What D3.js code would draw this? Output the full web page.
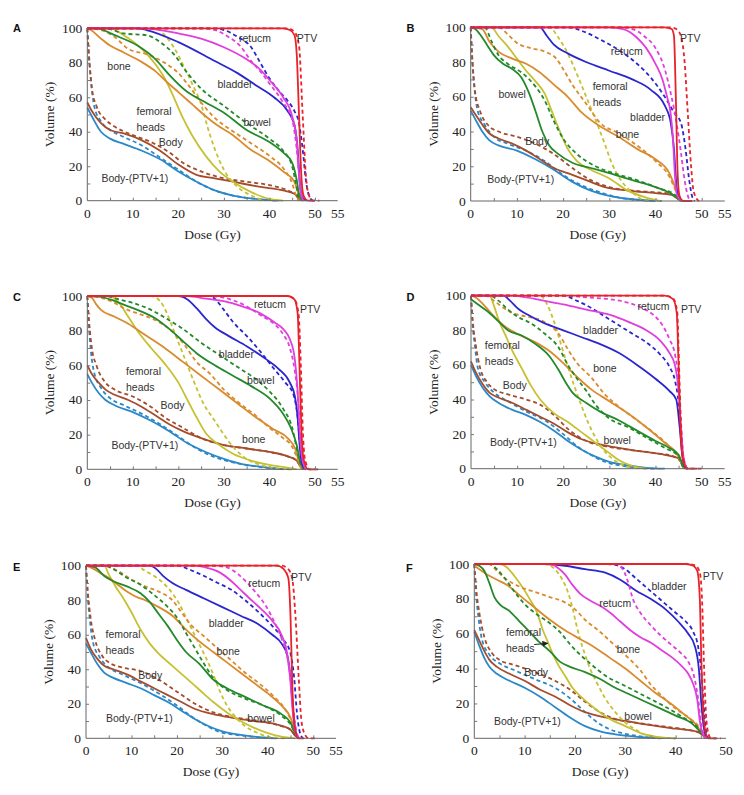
<!DOCTYPE html>
<html>
<head>
<meta charset="utf-8">
<script src="https://cdn.jsdelivr.net/npm/d3@7"></script>
<style>
  body { margin: 0; background: #fff; }
  svg { display: block; }
</style>
</head>
<body>
<svg id="chart" width="744" height="795"></svg>
<script>
// each array holds one curve per panel, in order A..F, as [dose Gy, volume %]
var bodyRingSolid = [
  [[0,54],[1,49],[3,40],[5,36],[8,33],[12,29],[16,24],[20,17],[24,11],[28,6],[32,3],[37,1],[42,0]],
  [[0,52],[1,47],[2.5,40],[4,35],[6,32],[10,29],[14,24],[18,18],[22,11],[26,6],[30,3],[35,1],[40,0]],
  [[0,55],[1,50],[2.5,44],[4,40],[6,37],[10,33],[14,28],[18,22],[22,15],[26,10],[30,6],[34,3],[38,1.5],[43,0]],
  [[0,60],[1,54],[2.5,47],[4,42],[6,38],[9,34],[12,31],[15,27],[18,22],[21,16],[24,11],[27,7],[30,4],[34,2],[38,0.5],[42,0]],
  [[0,55],[1,50],[2.5,43],[4,38],[6,35],[9,32],[12,29],[15,25],[18,21],[21,16],[24,11],[27,7],[30,4],[34,2],[38,0.7],[42,0]],
  [[0,61],[1,53],[2,46],[3,41],[4.5,37],[7,33],[10,29],[13,24],[16,18],[19,12],[22,7],[25,4],[28,2.3],[32,1],[37,0]]
]
var bodyRingDashed = [
  [[0,100],[0.3,85],[0.8,70],[1.5,55],[3,46],[5,41],[8,37],[12,32],[16,25],[20,18],[24,11],[28,6],[32,3],[37,1],[42,0]],
  [[0,100],[0.3,82],[0.8,65],[1.5,52],[3,44],[5,37],[8,33],[12,29],[16,23],[20,15],[24,9],[28,5],[32,2],[37,0.5],[42,0]],
  [[0,100],[0.3,85],[0.8,68],[1.5,56],[3,47],[5,41],[8,37],[12,32],[16,26],[20,19],[24,12],[28,7],[32,4],[36,2],[41,0.5],[45,0]],
  [[0,100],[0.3,85],[0.8,72],[1.5,58],[3,50],[5,44],[8,39],[12,33],[16,28],[20,20],[23,13],[26,8],[29,4],[32,2],[36,0.5],[40,0]],
  [[0,100],[0.3,85],[0.8,70],[1.5,56],[3,47],[5,41],[8,37],[12,32],[16,26],[20,19],[23,13],[26,8],[29,4],[33,2],[37,0.8],[41,0]],
  [[0,100],[0.3,85],[0.8,70],[1.5,57],[3,48],[5,43],[8,39],[12,34],[16,29],[19,23],[22,15],[25,8],[28,4],[31,2],[35,0.5],[40,0]]
]
var bodySolid = [
  [[0,57],[1,52],[3,45],[5,41],[8,39],[12,35],[16,29],[20,21],[24,15],[28,13],[32,11],[38,8],[43,6],[45.5,4],[46.5,1],[47.5,0]],
  [[0,54],[1,50],[2.5,44],[4,39],[6,36],[9,33],[12,29],[15,24],[18,19],[21,16],[25,12],[29,8],[34,6],[40,4.5],[43.5,3.5],[45,1],[46,0]],
  [[0,60],[1,55],[2.5,50],[4,46],[6,43],[9,40],[12,36],[15,31],[18,26],[21,22],[25,18],[30,14],[35,12],[40,10],[44,7.5],[46,5],[47,1],[48,0]],
  [[0,62],[1,56],[2.5,49],[4,44],[6,41],[9,38],[12,34],[15,30],[18,26],[21,21],[24,17],[28,14],[32,12],[37,10],[42,8],[45,6],[46,1],[46.8,0]],
  [[0,58],[1,52],[2.5,46],[4,42],[6,40],[9,37],[12,33],[15,29],[18,25],[21,21],[24,17],[28,14],[32,12],[37,10],[42,8],[45,5],[46,1.5],[46.7,0]],
  [[0,62],[1,56],[2,50],[3,45],[4.5,41],[7,37],[10,33],[13,28],[16,24],[19,19],[22,15],[26,12],[30,10],[35,7.5],[40,5.5],[44,4],[45.3,2],[46,0]]
]
var bodyDashed = [
  [[0,100],[0.5,80],[1,65],[2,55],[4,47],[6,43],[10,38],[14,34],[18,28],[21,22],[25,17],[30,13],[35,11],[40,9],[44,6],[46,3],[47,0]],
  [[0,100],[0.4,80],[1,62],[2,52],[4,43],[6,40],[10,37],[14,33],[18,27],[22,19],[26,12],[30,8],[35,6],[40,5],[43.5,4],[45,1],[46,0]],
  [[0,100],[0.4,85],[1,70],[2,60],[4,50],[6,46],[10,42],[14,36],[17,30],[21,24],[25,18],[30,14],[35,12],[40,10],[44,7.5],[46,5],[47,1],[48,0]],
  [[0,100],[0.4,85],[1,72],[2,58],[3.5,50],[5,46],[8,43],[12,40],[15,37],[18,31],[21,23],[25,16],[29,13],[34,11],[40,9],[44,7],[45.5,4],[46.5,0]],
  [[0,100],[0.4,85],[1,70],[2,57],[3.5,48],[5,44],[8,41],[12,39],[16,34],[20,27],[24,20],[28,15],[33,12],[38,10],[43,7],[45,5],[46.3,1],[47,0]],
  [[0,100],[0.4,85],[1,72],[2,58],[3.5,49],[5,45],[8,42],[12,38],[16,33],[19,28],[22,21],[25,15],[28,11],[32,9],[37,7],[42,5],[45,3],[46,0]]
]
var femoralSolid = [
  [[0,100],[5,100],[8,96],[12,88],[15,79],[17,71],[19,60],[21,48],[23,38],[26,26],[29,17],[32,11],[36,5],[40,1],[43,0]],
  [[0,100],[4.5,100],[6,95],[8,89],[10,82],[12,75],[14,69],[16,62],[17.5,52],[19,42],[21,30],[23,23],[26,18],[30,13],[34,6],[38,2],[41,0]],
  [[0,100],[5,100],[7,96],[9,88],[11,80],[14,70],[17,61],[20,50],[22,40],[24,30],[26,21],[29,14],[32,9],[36,5],[40,2.5],[44,1],[46,0]],
  [[0,100],[4,100],[5,94],[6,86],[7.5,77],[9,68],[11,58],[13,48],[15,40],[18,32],[21,27],[24,21],[27,15],[30,9],[32,5],[35,1.5],[38,0]],
  [[0,100],[4,100],[5,95],[6.5,88],[8,82],[10,73],[12,63],[14,55],[16,49],[19,42],[22,35],[25,28],[28,21],[31,15],[34,10],[37,6],[40,3],[43,1],[46,0]],
  [[0,100],[5,100],[6.5,98],[8,93],[9.5,87],[11,80],[12.5,72],[13.5,63],[14.5,56],[15.5,49],[16.5,43],[18,36],[19.5,29],[21.5,23],[24,17],[27,11],[30,7],[33,3],[36,1],[40,0]]
]
var femoralDashed = [
  [[0,100],[15,100],[17,96],[19,89],[21,79],[23,68],[25,56],[26.5,42],[28,30],[30,18],[33,8],[36,3],[39,0]],
  [[0,100],[17,100],[19,94],[21,85],[23,73],[25,60],[27,47],[29,33],[30.5,22],[32.5,12],[35,5],[37,1],[39,0]],
  [[0,100],[14,100],[16,97],[17.5,90],[19,80],[20.5,70],[22,60],[23.5,50],[25.5,38],[28,28],[30,20],[32,13],[35,6],[38,2.5],[42,0.5],[45,0]],
  [[0,100],[15,100],[16.5,95],[18,85],[19.5,72],[21,59],[22.5,47],[24,36],[25.5,26],[27,18],[29,10],[31,5],[33,2],[35,0]],
  [[0,100],[11,100],[13,97],[15,94],[17,90],[19,84],[20.5,78],[22,70],[23.5,62],[25,54],[26.5,46],[28,37],[29.5,27],[31,19],[33,12],[35,7],[37,4],[40,1],[44,0]],
  [[0,100],[14,100],[16,97],[17.5,91],[18.7,83],[19.5,75],[20.2,66],[21,57],[22,48],[23,40],[24.5,31],[26,23],[28,15],[30,9],[32,5],[34,2],[37,0]]
]
var boneSolid = [
  [[0,100],[0.8,99],[3,94],[5,90],[8,86],[11.6,81],[15,75],[17.4,69],[20,63],[23,56],[26,49],[28.4,44],[32,38],[35.7,30],[40,23],[43,17],[45.5,11],[46.5,3],[47,0]],
  [[0,100],[2.5,99],[4,92],[6,86],[9,82],[12,79],[15,74],[18,67],[21,60],[24,51],[28,43],[32,37],[36,30],[40,24],[43,16],[44.5,6],[45.3,0]],
  [[0,100],[1,99],[2,95],[3,92],[6,88],[9,84],[13,77],[17,70],[21,62],[25,54],[29,46],[33,38],[37,30],[41,23],[44,18],[45.8,11],[46.6,3],[47.2,0]],
  [[0,100],[1,99],[3,94],[5,88],[7,83],[10,78],[14,73],[17,68],[20,61],[23,53],[26,46],[30,39],[34,32],[38,24],[42,15],[44.5,9],[45.7,3],[46.5,0]],
  [[0,100],[1,99],[3,96],[5,93],[7,89],[9,85],[11,82],[13,80],[16,76],[19,71],[22,63],[25,56],[28,50],[31,44],[34,38],[37,32],[40,26],[43,19],[45,12],[46,4],[46.7,0]],
  [[0,99],[1,97],[2.5,94],[4.5,91],[6.5,88],[9,82],[12,75],[15,68],[18,62],[21,57],[24,52],[27,46],[30,40],[33,33],[36,26],[39,20],[42,13],[44,8],[45.2,3],[46,0]]
]
var boneDashed = [
  [[0,100],[3,99],[6,95],[9,88],[13,85],[17,80],[20,74],[22.5,66],[25,57],[28,48],[31,42],[35,35],[40,26],[43,19],[45,10],[46,2],[46.5,0]],
  [[0,100],[6,100],[8,96],[10,91],[13,88],[16,86],[18.5,82],[20,76],[22,67],[25,56],[28,45],[32,39],[36,32],[40,23],[43,14],[44.5,5],[45.3,0]],
  [[0,100],[3,99],[6,96],[8,93],[11,90],[15,86],[18,81],[21,73],[24,62],[27,55],[30,46],[33,39],[37,31],[40,24],[43,18],[45,13],[46.3,5],[47,0]],
  [[0,100],[3,100],[5,97],[7,93],[9,90],[12,88],[15,86],[17,83],[19,78],[21,69],[23,61],[26,53],[29,43],[32,36],[36,28],[40,20],[43,13],[45,7],[46,1],[46.5,0]],
  [[0,100],[4,100],[7,97],[10,92],[13,88],[16,85],[19,80],[21,73],[23,66],[26,59],[29,52],[32,45],[35,38],[38,32],[41,25],[44,16],[45.5,8],[46.3,2],[47,0]],
  [[0,100],[3,100],[4.5,96],[6,92],[9,87],[12,84],[15,81],[18,78],[20,74],[22,68],[25,61],[28,53],[31,45],[33,39],[35,31],[37,25],[40,17],[43,11],[44.8,6],[45.6,2],[46.2,0]]
]
var bowelSolid = [
  [[0,100],[2,100],[6,96],[11,90],[15,82],[18,73],[22,63],[26,57],[30,51],[35,41],[40,34],[43,28],[45,22],[46,12],[46.5,4],[47.2,0]],
  [[0,100],[1,99],[2,96],[3.5,90],[5,84],[7,79],[9,76],[11,71],[12.5,63],[14,52],[15.5,40],[17,32],[19,27],[22,22],[26,19],[30,16],[35,12],[40,8],[43.5,4],[45,1],[45.5,0]],
  [[0,100],[3,99.5],[5,98],[8,95],[11,92],[15,87],[18,81],[21,74],[24,67],[28,60],[32,54],[36,48],[40,41],[43,32],[44.7,24],[46,14],[46.7,5],[47.5,0]],
  [[0,98],[2,94],[4,90],[6,85],[8,80],[11,77],[14,72],[17,65],[19,57],[20.5,50],[22,44],[25,38],[28,33],[32,28],[36,22],[40,16],[43,12],[45,8],[46,2],[46.5,0]],
  [[0,100],[2,99],[4,94],[6,91],[9,88],[12,84],[14,79],[16,72],[18,65],[20,57],[22,50],[25,43],[28,34],[31,29],[35,24],[39,19],[43,14],[45,9],[46,3],[46.7,0]],
  [[0,100],[1,99],[2,96],[3,89],[4,81],[5,77],[7,73],[9,67],[11,61],[13,55],[15,50],[17,44],[19,41],[22,38],[25,34],[28,29],[31,25],[34,21],[37,17],[40,13],[43,9],[44.5,5],[45.5,1.5],[46,0]]
]
var bowelDashed = [
  [[0,100],[4,100],[8,97],[13,96],[16,92],[19,85],[22,74],[25,65],[30,55],[35,45],[40,36],[43,29],[45,20],[45.8,10],[46.5,0]],
  [[0,100],[3,100],[4.5,92],[6,84],[8,79],[11,74],[14,66],[16,58],[18,46],[20,36],[23,27],[27,20],[31,16],[36,12],[41,7],[44,4],[45.5,0]],
  [[0,100],[4,100],[7,98],[10,96],[14,92],[18,86],[21,81],[25,73],[29,66],[33,59],[37,52],[40,45],[43,35],[45,24],[46,12],[46.7,4],[47.5,0]],
  [[0,100],[4,100],[6,97],[8,92],[10,88],[13,84],[16,78],[19,70],[21,60],[23,52],[25,45],[27,37],[30,29],[34,24],[38,18],[42,12],[45,7],[46,1],[46.5,0]],
  [[0,100],[4,100],[6,98],[9,93],[12,89],[15,83],[18,76],[20,70],[22,61],[24,52],[26,43],[28,35],[31,28],[35,23],[39,19],[43,13],[45,8],[46,3],[46.7,0]],
  [[0,100],[3,100],[4.5,97],[6,92],[8,84],[10,77],[12,72],[15,66],[17,61],[19,54],[21,48],[23,43],[26,36],[30,30],[34,24],[38,18],[42,11],[44.5,6],[45.5,2],[46,0]]
]
var bladderSolid = [
  [[0,100],[11,100],[13,99],[20,92],[28,81],[33,74],[37,67],[41,60],[44,52],[45.5,44],[46.2,30],[46.7,10],[47.2,2],[48,0]],
  [[0,100],[15,100],[16.5,95],[18,90],[21,85],[25,80],[30,75],[35,70],[39,64],[42,55],[43.3,45],[44,30],[44.5,10],[45,2],[45.8,0]],
  [[0,100],[20,100],[22,98],[24,93],[26,87],[28,82],[31,77],[35,71],[39,64],[42,58],[44.5,50],[45.6,42],[46.2,30],[46.7,12],[47.2,3],[48,0]],
  [[0,100],[7,100],[8.5,97],[10,93],[13,88],[16,84],[20,80],[24,76],[28,72],[32,67],[36,60],[40,52],[43,45],[44.5,40],[45.2,25],[45.8,8],[46.5,1],[47,0]],
  [[0,100],[14,100],[15.5,98],[17,94],[19,90],[22,86],[26,81],[30,76],[34,71],[38,66],[41,60],[43,55],[44.3,48],[45,35],[45.6,15],[46.1,4],[46.7,0]],
  [[0,100],[14,100],[18,99],[22,97],[26,95],[29,91],[32,85],[35,80],[38,74],[40.5,67],[42.5,60],[43.8,53],[44.6,40],[45.1,20],[45.6,6],[46.2,0]]
]
var bladderDashed = [
  [[0,100],[27,100],[30,99],[33,95],[36,89],[38,80],[40,71],[42,64],[44,58],[45.5,52],[46.5,45],[47.3,30],[48,12],[48.7,3],[49.5,0]],
  [[0,100],[21,100],[24,98],[28,93],[32,87],[36,79],[39,71],[42,60],[44,51],[45.5,45],[46.5,30],[47.3,12],[48,2],[48.5,0]],
  [[0,100],[27,100],[28.5,97],[30,92],[32,85],[35,77],[38,68],[41,58],[43.5,50],[45.3,43],[46.2,30],[46.8,12],[47.3,3],[48,0]],
  [[0,100],[20,100],[23,97],[26,93],[29,88],[32,83],[35,78],[38,73],[41,66],[43,59],[44.3,50],[45,38],[45.5,20],[46,6],[46.8,0]],
  [[0,100],[20,100],[23,97.5],[26,94],[29,90],[32,86],[35,80],[38,73],[41,65],[43.5,57],[45,49],[45.8,35],[46.4,15],[47,4],[47.7,0]],
  [[0,100],[26,100],[28,99.5],[30,97],[32,92],[34,87],[36,82],[38,77],[40,72],[42,67],[43.5,61],[44.5,52],[45.1,38],[45.6,18],[46,5],[46.5,0]]
]
var rectumSolid = [
  [[0,100],[12,100],[20,97],[25,94],[30,89],[35,82],[38,76],[40,70],[43,60],[45,49],[46,35],[46.5,15],[47,3],[47.5,0]],
  [[0,100],[30,100],[33,99],[36,94],[38,88],[40,79],[41.5,70],[42.5,60],[43.3,50],[43.8,35],[44.2,15],[44.6,4],[45.5,0]],
  [[0,100],[22,100],[26,98.5],[30,97],[34,94],[38,90],[41,85],[43,81],[44.5,75],[45.5,65],[46.2,45],[46.7,20],[47.3,5],[48,0]],
  [[0,100],[9,100],[12,99],[16,97],[20,95],[25,92],[30,89],[34,85],[38,80],[41,74],[43,67],[44.2,60],[45,45],[45.5,25],[46,8],[46.8,0]],
  [[0,100],[24,100],[27,98.5],[29.5,96],[32,91],[34,86],[36,81],[38.5,75],[41,68],[43,60],[44.2,50],[44.9,35],[45.5,15],[46,4],[46.7,0]],
  [[0,100],[15,100],[16.5,98],[18,94],[19.5,88],[21,83],[23,79],[25,76],[27,72],[29,67],[31,62],[33,58],[35,55],[37,51],[39,47],[41,42],[42.5,37],[43.5,31],[44.3,22],[44.8,10],[45.3,3],[46,0]]
]
var rectumDashed = [
  [[0,100],[25,100],[28,99],[31,95],[33.5,90],[36,81],[38,75],[40,68],[43,57],[45,47],[46,30],[46.8,8],[47.5,0]],
  [[0,100],[32,100],[35,99],[37.5,95],[40,88],[42,76],[43.3,62],[44.5,46],[45.5,28],[46.3,12],[47,3],[47.5,0]],
  [[0,100],[26,100],[30,99],[35,94],[38,89],[41,84],[43,78],[44.5,70],[45.5,58],[46.3,40],[46.8,18],[47.3,5],[48,0]],
  [[0,100],[20,100],[25,99],[30,98],[34,96],[37,93],[39.5,89],[41.5,83],[43,75],[44.3,65],[45,50],[45.5,28],[46,8],[46.8,0]],
  [[0,100],[28,100],[31,99],[33.5,95],[35.5,90],[37.5,84],[39.5,77],[41.5,67],[43,58],[44.2,48],[45,35],[45.7,15],[46.3,4],[47,0]],
  [[0,100],[28,100],[29.5,97],[30.5,90],[31.5,80],[33,72],[35,65],[37,59],[39,54],[41,49],[42.5,44],[43.7,35],[44.5,22],[45,10],[45.5,3],[46.2,0]]
]
var ptvSolid = [
  [[0,100],[43,100],[44.5,99],[45.5,96],[46,85],[46.5,50],[47,15],[47.5,3],[48.5,0],[50,0]],
  [[0,100],[42,100],[43.5,99],[44,95],[44.4,60],[44.8,15],[45.2,3],[46,0],[48,0]],
  [[0,100],[44,100],[45.5,98],[46.2,90],[46.6,60],[47,25],[47.5,6],[48.5,0],[50,0]],
  [[0,100],[42,100],[43.8,98],[44.6,90],[45,60],[45.4,25],[45.9,6],[46.8,0],[49,0]],
  [[0,100],[42,100],[43.5,98],[44.5,93],[45,70],[45.4,30],[45.9,7],[46.7,0],[48,0]],
  [[0,100],[42,100],[43.5,99],[44.3,96],[44.8,80],[45.1,45],[45.5,15],[45.9,4],[46.5,0],[48,0]]
]
var ptvDashed = [
  [[0,100],[44,100],[45.5,98],[46.5,90],[47.3,50],[48,15],[48.7,3],[49.5,0],[51,0]],
  [[0,100],[43,100],[44.5,99],[45.5,95],[46.3,80],[47,50],[47.7,20],[48.3,5],[49.5,0],[50,0]],
  [[0,100],[44,100],[45.5,98],[46.4,90],[46.9,60],[47.3,25],[47.8,6],[48.8,0],[51,0]],
  [[0,100],[42,100],[43.8,98.5],[44.7,91],[45.1,60],[45.5,25],[46,6],[47,0],[50,0]],
  [[0,100],[43,100],[44.5,98],[45.4,92],[46.1,70],[46.8,35],[47.4,10],[48.2,2],[49,0],[51,0]],
  [[0,100],[42.5,100],[44,99],[44.8,95],[45.3,75],[45.6,45],[46,15],[46.4,4],[47,0],[49,0]]
]

var structures = ["Body-(PTV+1)", "Body", "femoral heads", "bone", "bowel", "bladder", "rectum", "PTV"]
var solidSeries = [bodyRingSolid, bodySolid, femoralSolid, boneSolid, bowelSolid, bladderSolid, rectumSolid, ptvSolid]
var dashedSeries = [bodyRingDashed, bodyDashed, femoralDashed, boneDashed, bowelDashed, bladderDashed, rectumDashed, ptvDashed]
var colors = ["#2b88c8", "#a44c2c", "#c6c132", "#d98b2e", "#23892a", "#2a26cf", "#e03fdc", "#e8222b"]

var xTicksWide = [0, 10, 20, 30, 40, 50, 55]
var xTicksF = [0, 10, 20, 30, 40, 50]
var yTicks = [0, 20, 40, 60, 80, 100]

// text labels written on each panel: [text, dose, volume]
var labelsA = [["retucm",33.3,91.9],["PTV",46,91.9],["bone",4.4,75.8],["bladder",28.6,65.2],["femoral",10.8,49.7],["heads",10.8,40.4],["bowel",34.3,43.5],["Body",15.7,31.7],["Body-(PTV+1)",3.1,11]]
var labelsB = [["PTV",45.3,91.7],["retucm",30.3,84],["femoral",26.4,63.9],["heads",26.4,54.9],["bowel",6,59.5],["bladder",34.5,46],["bone",31.4,36.5],["Body",11.8,32.2],["Body-(PTV+1)",3.6,10.2]]
var labelsC = [["retucm",36.6,92.9],["PTV",46.7,90.4],["bladder",28.9,64],["femoral",8.5,54.4],["heads",8.5,45.2],["bowel",35.1,49],["Body",16.1,34.8],["bone",34,15],["Body-(PTV+1)",5.3,11.7]]
var labelsD = [["retucm",36.1,91.7],["PTV",45.5,89.8],["bladder",24.3,77.6],["femoral",3,69],["heads",3,60],["bone",26.5,56],["Body",6.9,45.9],["bowel",28.7,14],["Body-(PTV+1)",4.1,13.3]]
var labelsE = [["PTV",45.1,91.1],["retucm",35.7,87.8],["bladder",27,64.7],["femoral",4.3,57.9],["heads",4.3,48.6],["bone",28.7,48.3],["Body",11.5,34.4],["bowel",35.5,9.3],["Body-(PTV+1)",4.4,9.7]]
var labelsF = [["PTV",45.4,90.8],["bladder",35.2,85.1],["retucm",24.8,75.5],["femoral",6.3,58.9],["heads",6.3,49.7],["bone",28.3,49.1],["Body",9.9,36],["bowel",29.8,10.5],["Body-(PTV+1)",3.9,7.6]]

// panel frames in page pixels
var panels = [
  { id: "A", left: 87.3, right: 337.7, top: 28.3, bottom: 200.7, xmax: 55, ticks: xTicksWide, labels: labelsA, lx: 13, ly: 31.7 },
  { id: "B", left: 470.7, right: 724.8, top: 27.3, bottom: 201, xmax: 55, ticks: xTicksWide, labels: labelsB, lx: 406.5, ly: 31.7 },
  { id: "C", left: 87.3, right: 337.7, top: 296, bottom: 469.3, xmax: 55, ticks: xTicksWide, labels: labelsC, lx: 13, ly: 300.7 },
  { id: "D", left: 471, right: 724.7, top: 295.7, bottom: 468.7, xmax: 55, ticks: xTicksWide, labels: labelsD, lx: 406.5, ly: 300.7 },
  { id: "E", left: 86, right: 336, top: 565.7, bottom: 738.3, xmax: 55, ticks: xTicksWide, labels: labelsE, lx: 13, ly: 571 },
  { id: "F", left: 474.3, right: 726, top: 564, bottom: 738.3, xmax: 50, ticks: xTicksF, labels: labelsF, lx: 406, ly: 571.5 }
]

var svg = d3.select("#chart")
var serif = "'Liberation Serif', 'Times New Roman', serif"
var sans = "'Liberation Sans', Arial, sans-serif"

svg.append("defs").append("marker")
  .attr("id", "arrow").attr("viewBox", "0 0 10 10").attr("refX", 9).attr("refY", 5)
  .attr("markerWidth", 6).attr("markerHeight", 6).attr("orient", "auto")
  .append("path").attr("d", "M0,0L10,5L0,10z").attr("fill", "#222")

panels.forEach(function(p, pi) {
  var x = d3.scaleLinear().domain([0, p.xmax]).range([p.left, p.right])
  var y = d3.scaleLinear().domain([0, 100]).range([p.bottom, p.top])
  var g = svg.append("g")

  var line = d3.line()
    .x(function(d) { return x(d[0]) })
    .y(function(d) { return y(d[1]) })
    .curve(d3.curveMonotoneX)

  // curves
  structures.forEach(function(s, si) {
    g.append("path").datum(solidSeries[si][pi])
      .attr("d", line).attr("fill", "none")
      .attr("stroke", colors[si]).attr("stroke-width", 1.8)
    g.append("path").datum(dashedSeries[si][pi])
      .attr("d", line).attr("fill", "none")
      .attr("stroke", colors[si]).attr("stroke-width", 1.8)
      .attr("stroke-dasharray", "4,3")
  })

  // axes
  var xAxis = d3.axisBottom(x).tickValues(d3.range(5, p.xmax, 5)).tickSize(-3).tickFormat("")
  var yAxis = d3.axisLeft(y).tickValues(d3.range(10, 100, 10)).tickSize(-3).tickFormat("")
  var gx = g.append("g").attr("transform", "translate(0," + p.bottom + ")").call(xAxis)
  var gy = g.append("g").attr("transform", "translate(" + p.left + ",0)").call(yAxis)
  gx.select(".domain").attr("d", "M" + p.left + ",0H" + p.right).attr("stroke", "#666")
  gy.select(".domain").attr("d", "M0," + p.top + "V" + p.bottom).attr("stroke", "#666")
  g.selectAll(".tick line").attr("stroke", "#777")

  g.selectAll(".xlab").data(p.ticks).enter().append("text")
    .attr("x", function(d) { return x(d) }).attr("y", p.bottom + 17)
    .attr("text-anchor", "middle").attr("font-family", serif).attr("font-size", 13.5)
    .attr("fill", "#222").text(function(d) { return d })
  g.selectAll(".ylab").data(yTicks).enter().append("text")
    .attr("x", p.left - 5).attr("y", function(d) { return y(d) + 4.5 })
    .attr("text-anchor", "end").attr("font-family", serif).attr("font-size", 13.5)
    .attr("fill", "#222").text(function(d) { return d })

  g.append("text")
    .attr("x", (p.left + p.right) / 2).attr("y", p.bottom + 38)
    .attr("text-anchor", "middle").attr("font-family", serif).attr("font-size", 13.5)
    .attr("fill", "#222").text("Dose (Gy)")
  g.append("text")
    .attr("transform", "translate(" + (p.left - 33) + "," + ((p.top + p.bottom) / 2) + ") rotate(-90)")
    .attr("text-anchor", "middle").attr("font-family", serif).attr("font-size", 13.5)
    .attr("fill", "#222").text("Volume (%)")

  // structure names
  g.selectAll(".ann").data(p.labels).enter().append("text")
    .attr("x", function(d) { return x(d[1]) }).attr("y", function(d) { return y(d[2]) })
    .attr("font-family", sans).attr("font-size", 10.5).attr("fill", "#333")
    .text(function(d) { return d[0] })

  g.append("text").attr("x", p.lx).attr("y", p.ly)
    .attr("font-family", sans).attr("font-size", 11).attr("font-weight", "bold")
    .attr("fill", "#111").text(p.id)

  if (p.id === "F") {
    g.append("line")
      .attr("x1", x(11.9)).attr("y1", y(53.8)).attr("x2", x(14.6)).attr("y2", y(54.5))
      .attr("stroke", "#222").attr("stroke-width", 1).attr("marker-end", "url(#arrow)")
  }
})
</script>
</body>
</html>
